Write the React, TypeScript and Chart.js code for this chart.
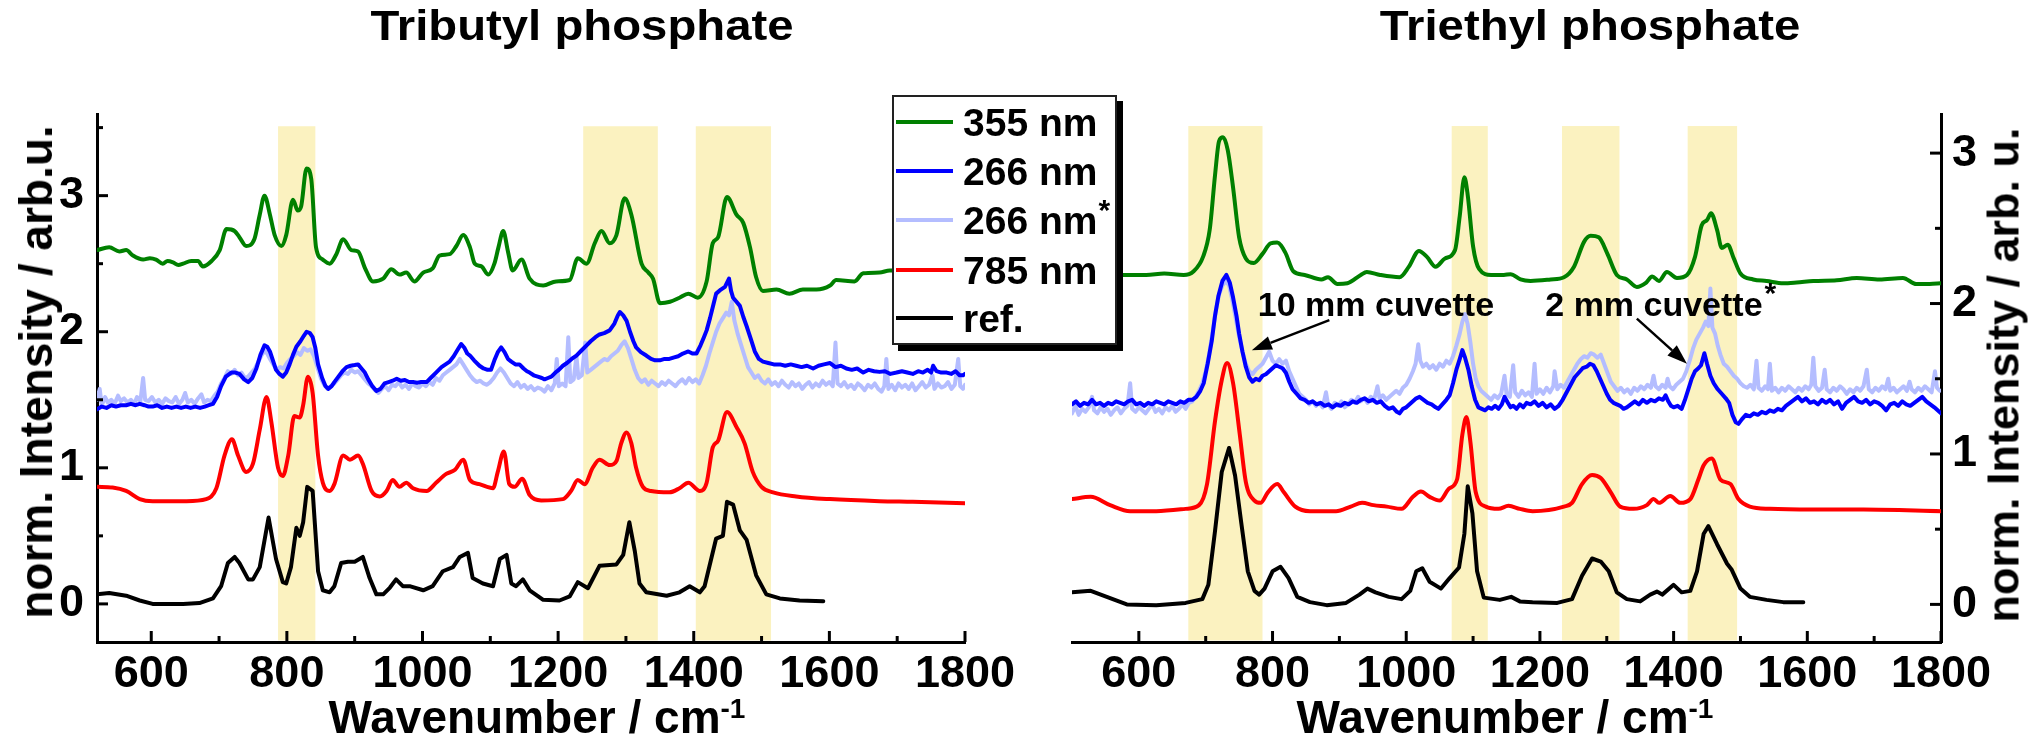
import React, { useEffect, useRef } from "react";
import { Chart, registerables } from "chart.js";

Chart.register(...registerables);

type Pt = [number, number];

const FONT = '"Liberation Sans", Arial, Helvetica, sans-serif';

// ---------- Tributyl phosphate (wavenumber / cm-1, normalized intensity) ----------
const TBP_355: Pt[] = [
  [520, 2.6], [538, 2.62], [553, 2.59], [563, 2.6], [573, 2.56], [588, 2.53], [598, 2.54], [607, 2.53],
  [617, 2.5], [624, 2.52], [632, 2.51], [640, 2.49], [647, 2.5], [659, 2.52], [669, 2.52], [676, 2.48],
  [689, 2.52], [701, 2.6], [711, 2.755], [723, 2.74], [730, 2.695], [740, 2.63], [752, 2.68], [760, 2.86],
  [767, 3.0], [775, 2.86], [782, 2.71], [792, 2.63], [799, 2.71], [809, 2.97], [816, 2.89], [821, 2.92],
  [829, 3.2], [836, 3.12], [843, 2.62], [853, 2.53], [863, 2.5], [873, 2.57], [883, 2.68], [895, 2.6],
  [905, 2.59], [915, 2.47], [927, 2.37], [942, 2.39], [954, 2.46], [966, 2.42], [976, 2.435], [988, 2.37],
  [1001, 2.435], [1015, 2.465], [1025, 2.56], [1040, 2.57], [1050, 2.63], [1060, 2.71], [1070, 2.62],
  [1077, 2.5], [1087, 2.48], [1097, 2.42], [1106, 2.5], [1112, 2.62], [1119, 2.74], [1126, 2.59],
  [1133, 2.45], [1146, 2.53], [1158, 2.39], [1178, 2.34], [1197, 2.37], [1217, 2.38], [1229, 2.54],
  [1242, 2.5], [1254, 2.65], [1264, 2.74], [1276, 2.65], [1286, 2.71], [1298, 2.98], [1308, 2.86],
  [1323, 2.5], [1333, 2.435], [1340, 2.39], [1350, 2.21], [1365, 2.22], [1379, 2.25], [1392, 2.28],
  [1406, 2.25], [1419, 2.37], [1428, 2.65], [1436, 2.695], [1449, 2.99], [1463, 2.86], [1473, 2.8],
  [1483, 2.62], [1492, 2.4], [1502, 2.3], [1522, 2.31], [1541, 2.28], [1561, 2.31], [1581, 2.31],
  [1601, 2.34], [1610, 2.38], [1637, 2.37], [1650, 2.43], [1674, 2.435], [1689, 2.45], [1740, 2.45],
  [1800, 2.47],
];

const TBP_266: Pt[] = [
  [520, 1.43], [527, 1.45], [534, 1.44], [541, 1.46], [548, 1.45], [555, 1.46], [563, 1.46], [570, 1.47],
  [577, 1.46], [583, 1.47], [590, 1.46], [596, 1.45], [602, 1.45], [609, 1.46], [616, 1.44], [623, 1.45],
  [630, 1.44], [637, 1.45], [644, 1.44], [651, 1.45], [658, 1.44], [665, 1.45], [672, 1.44], [679, 1.45],
  [685, 1.46], [691, 1.47], [697, 1.52], [703, 1.6], [710, 1.67], [718, 1.7], [724, 1.7], [730, 1.69],
  [737, 1.65], [743, 1.63], [749, 1.66], [755, 1.73], [761, 1.83], [767, 1.9], [771, 1.89], [775, 1.855],
  [780, 1.78], [784, 1.72], [789, 1.69], [794, 1.67], [799, 1.7], [804, 1.76], [809, 1.83], [814, 1.89],
  [820, 1.93], [825, 1.97], [829, 2.0], [834, 1.99], [838, 1.96], [842, 1.88], [846, 1.76], [852, 1.66],
  [857, 1.6], [861, 1.58], [866, 1.6], [870, 1.63], [876, 1.67], [882, 1.71], [888, 1.74], [894, 1.75],
  [900, 1.755], [905, 1.76], [910, 1.73], [915, 1.7], [920, 1.65], [926, 1.6], [932, 1.565], [938, 1.58],
  [944, 1.62], [950, 1.63], [956, 1.64], [962, 1.655], [968, 1.64], [974, 1.645], [980, 1.63], [986, 1.63],
  [992, 1.625], [998, 1.63], [1006, 1.63], [1012, 1.66], [1020, 1.7], [1028, 1.74], [1034, 1.76],
  [1040, 1.78], [1046, 1.82], [1052, 1.87], [1057, 1.91], [1062, 1.88], [1066, 1.84], [1070, 1.825],
  [1076, 1.79], [1084, 1.75], [1090, 1.73], [1096, 1.72], [1101, 1.72], [1106, 1.79], [1111, 1.85],
  [1116, 1.885], [1121, 1.85], [1126, 1.8], [1131, 1.78], [1137, 1.76], [1143, 1.76], [1149, 1.73],
  [1154, 1.71], [1158, 1.7], [1164, 1.68], [1170, 1.67], [1176, 1.66], [1180, 1.65], [1185, 1.66],
  [1190, 1.67], [1196, 1.7], [1201, 1.72], [1207, 1.75], [1213, 1.77], [1220, 1.8], [1227, 1.825],
  [1234, 1.86], [1242, 1.9], [1248, 1.93], [1255, 1.96], [1261, 1.98], [1268, 1.99], [1276, 2.01],
  [1283, 2.06], [1288, 2.12], [1291, 2.145], [1296, 2.12], [1301, 2.08], [1306, 2.0], [1311, 1.93],
  [1315, 1.885], [1322, 1.85], [1330, 1.825], [1337, 1.8], [1343, 1.79], [1350, 1.79], [1357, 1.8],
  [1364, 1.8], [1370, 1.81], [1377, 1.82], [1384, 1.84], [1392, 1.855], [1398, 1.84], [1404, 1.84],
  [1410, 1.9], [1415, 1.96], [1419, 2.01], [1424, 2.1], [1429, 2.2], [1433, 2.28], [1440, 2.31],
  [1446, 2.33], [1452, 2.39], [1455, 2.3], [1458, 2.25], [1463, 2.22], [1468, 2.19], [1473, 2.11],
  [1478, 2.04], [1484, 1.95], [1490, 1.855], [1496, 1.8], [1502, 1.78], [1510, 1.77], [1518, 1.76],
  [1527, 1.76], [1535, 1.75], [1543, 1.76], [1551, 1.75], [1559, 1.74], [1567, 1.75], [1576, 1.73],
  [1584, 1.75], [1592, 1.76], [1601, 1.77], [1609, 1.74], [1617, 1.75], [1625, 1.73], [1633, 1.72],
  [1641, 1.73], [1650, 1.7], [1658, 1.72], [1666, 1.71], [1674, 1.705], [1682, 1.71], [1690, 1.69],
  [1699, 1.7], [1707, 1.71], [1715, 1.7], [1723, 1.69], [1731, 1.71], [1738, 1.7], [1745, 1.72],
  [1750, 1.7], [1753, 1.75], [1758, 1.71], [1765, 1.7], [1773, 1.7], [1780, 1.69], [1786, 1.71],
  [1792, 1.68], [1797, 1.68], [1800, 1.69],
];

// 266 nm, 2 mm cuvette
const TBP_266_2MM: Pt[] = [
  [520, 1.5], [524, 1.58], [527, 1.46], [532, 1.52], [536, 1.48], [541, 1.5], [546, 1.47], [551, 1.53],
  [555, 1.49], [560, 1.51], [565, 1.48], [570, 1.5], [575, 1.47], [579, 1.52], [584, 1.49], [588, 1.66],
  [591, 1.5], [596, 1.49], [601, 1.52], [606, 1.48], [611, 1.5], [616, 1.47], [621, 1.51], [626, 1.49],
  [631, 1.48], [636, 1.52], [641, 1.47], [646, 1.5], [650, 1.55], [654, 1.48], [659, 1.5], [664, 1.47],
  [669, 1.51], [674, 1.54], [678, 1.48], [683, 1.5], [688, 1.49], [693, 1.53], [698, 1.56], [703, 1.62],
  [708, 1.66], [713, 1.71], [718, 1.69], [723, 1.72], [728, 1.68], [733, 1.7], [738, 1.66], [743, 1.67],
  [748, 1.7], [753, 1.73], [758, 1.78], [763, 1.83], [767, 1.86], [771, 1.84], [775, 1.8], [780, 1.76],
  [785, 1.72], [790, 1.74], [795, 1.73], [800, 1.77], [805, 1.8], [810, 1.82], [815, 1.85], [820, 1.83],
  [825, 1.88], [830, 1.86], [835, 1.87], [840, 1.82], [845, 1.74], [850, 1.66], [855, 1.61], [860, 1.58],
  [865, 1.6], [870, 1.62], [875, 1.65], [880, 1.68], [885, 1.7], [890, 1.69], [895, 1.72], [900, 1.7],
  [905, 1.71], [910, 1.68], [915, 1.65], [920, 1.62], [925, 1.6], [930, 1.57], [935, 1.55], [940, 1.58],
  [945, 1.6], [950, 1.57], [955, 1.61], [960, 1.6], [965, 1.63], [970, 1.59], [975, 1.61], [980, 1.58],
  [985, 1.62], [990, 1.6], [995, 1.59], [1000, 1.62], [1005, 1.6], [1010, 1.63], [1015, 1.61],
  [1020, 1.66], [1025, 1.64], [1030, 1.68], [1035, 1.7], [1040, 1.72], [1045, 1.74], [1050, 1.76],
  [1055, 1.8], [1060, 1.76], [1065, 1.72], [1070, 1.68], [1075, 1.65], [1080, 1.63], [1085, 1.64],
  [1090, 1.62], [1095, 1.61], [1100, 1.63], [1105, 1.66], [1110, 1.7], [1115, 1.73], [1120, 1.7],
  [1125, 1.66], [1130, 1.62], [1135, 1.6], [1140, 1.63], [1145, 1.59], [1150, 1.61], [1155, 1.58],
  [1160, 1.6], [1165, 1.57], [1170, 1.59], [1175, 1.58], [1180, 1.56], [1185, 1.6], [1190, 1.57],
  [1195, 1.62], [1198, 1.8], [1201, 1.6], [1206, 1.62], [1211, 1.6], [1215, 1.96], [1218, 1.63],
  [1223, 1.65], [1227, 1.82], [1230, 1.66], [1235, 1.68], [1240, 1.92], [1243, 1.7], [1248, 1.72],
  [1253, 1.74], [1258, 1.76], [1263, 1.78], [1268, 1.8], [1273, 1.79], [1278, 1.82], [1283, 1.84],
  [1288, 1.86], [1293, 1.9], [1298, 1.93], [1303, 1.88], [1308, 1.8], [1313, 1.72], [1318, 1.66],
  [1323, 1.63], [1328, 1.65], [1333, 1.61], [1338, 1.64], [1343, 1.62], [1348, 1.6], [1353, 1.63],
  [1358, 1.61], [1363, 1.64], [1368, 1.62], [1373, 1.6], [1378, 1.63], [1383, 1.65], [1388, 1.62],
  [1393, 1.66], [1398, 1.63], [1403, 1.65], [1408, 1.62], [1413, 1.68], [1418, 1.75], [1423, 1.84],
  [1428, 1.92], [1433, 2.0], [1438, 2.06], [1443, 2.1], [1448, 2.14], [1452, 2.12], [1456, 2.22],
  [1460, 2.08], [1465, 1.98], [1470, 1.9], [1475, 1.82], [1480, 1.74], [1485, 1.7], [1490, 1.66],
  [1495, 1.68], [1500, 1.64], [1505, 1.62], [1510, 1.65], [1515, 1.61], [1520, 1.63], [1525, 1.6],
  [1530, 1.64], [1535, 1.61], [1540, 1.59], [1545, 1.63], [1550, 1.6], [1555, 1.62], [1560, 1.58],
  [1565, 1.61], [1570, 1.63], [1575, 1.59], [1580, 1.62], [1585, 1.6], [1590, 1.64], [1595, 1.61],
  [1600, 1.63], [1605, 1.6], [1609, 1.92], [1612, 1.62], [1617, 1.6], [1622, 1.63], [1627, 1.59],
  [1632, 1.61], [1637, 1.58], [1642, 1.62], [1647, 1.6], [1652, 1.57], [1657, 1.61], [1662, 1.59],
  [1667, 1.62], [1672, 1.58], [1677, 1.56], [1681, 1.6], [1684, 1.8], [1687, 1.58], [1692, 1.61],
  [1697, 1.57], [1702, 1.62], [1707, 1.59], [1712, 1.61], [1717, 1.58], [1722, 1.62], [1727, 1.57],
  [1732, 1.6], [1737, 1.63], [1742, 1.59], [1747, 1.61], [1752, 1.68], [1755, 1.58], [1760, 1.62],
  [1765, 1.59], [1770, 1.6], [1775, 1.63], [1780, 1.58], [1785, 1.61], [1790, 1.8], [1793, 1.6],
  [1797, 1.58], [1800, 1.61],
];

const TBP_785: Pt[] = [
  [520, 0.86], [543, 0.855], [563, 0.83], [583, 0.77], [602, 0.755], [652, 0.755], [681, 0.77],
  [696, 0.85], [708, 1.09], [719, 1.21], [728, 1.09], [740, 0.97], [750, 1.03], [760, 1.28], [770, 1.52],
  [777, 1.34], [787, 1.0], [794, 0.94], [802, 1.09], [811, 1.38], [819, 1.37], [824, 1.46], [831, 1.67],
  [838, 1.55], [846, 1.09], [853, 0.89], [863, 0.83], [870, 0.88], [883, 1.09], [893, 1.06], [905, 1.09],
  [912, 1.03], [925, 0.83], [937, 0.79], [947, 0.83], [956, 0.91], [966, 0.86], [976, 0.89], [986, 0.85],
  [1006, 0.83], [1020, 0.89], [1035, 0.955], [1048, 0.985], [1060, 1.06], [1070, 0.91], [1084, 0.88],
  [1104, 0.85], [1111, 0.97], [1120, 1.12], [1128, 0.88], [1136, 0.86], [1147, 0.92], [1158, 0.8],
  [1175, 0.76], [1207, 0.77], [1219, 0.83], [1229, 0.91], [1239, 0.88], [1251, 1.0], [1261, 1.06],
  [1276, 1.02], [1286, 1.05], [1293, 1.18], [1301, 1.26], [1308, 1.18], [1315, 1.0], [1325, 0.86],
  [1337, 0.83], [1364, 0.82], [1379, 0.85], [1392, 0.89], [1409, 0.83], [1419, 0.89], [1428, 1.15],
  [1436, 1.2], [1449, 1.41], [1463, 1.3], [1475, 1.18], [1487, 0.97], [1500, 0.86], [1517, 0.82],
  [1551, 0.79], [1601, 0.77], [1674, 0.755], [1723, 0.75], [1800, 0.74],
];

const TBP_REF: Pt[] = [
  [520, 0.07], [538, 0.08], [563, 0.06], [583, 0.025], [602, 0.0], [647, 0.0], [671, 0.006], [691, 0.04],
  [703, 0.13], [713, 0.3], [723, 0.345], [730, 0.3], [743, 0.18], [750, 0.18], [760, 0.27], [773, 0.635],
  [784, 0.33], [794, 0.16], [799, 0.15], [806, 0.27], [814, 0.56], [819, 0.5], [824, 0.6], [830, 0.86],
  [838, 0.83], [846, 0.24], [853, 0.1], [863, 0.085], [870, 0.13], [880, 0.3], [890, 0.31], [900, 0.31],
  [912, 0.345], [922, 0.19], [932, 0.07], [942, 0.07], [952, 0.12], [961, 0.18], [971, 0.13], [981, 0.13],
  [1001, 0.1], [1015, 0.13], [1030, 0.24], [1045, 0.27], [1055, 0.345], [1067, 0.375], [1074, 0.19],
  [1089, 0.15], [1104, 0.13], [1114, 0.33], [1124, 0.36], [1131, 0.15], [1138, 0.13], [1148, 0.18],
  [1158, 0.1], [1178, 0.03], [1202, 0.025], [1217, 0.055], [1229, 0.16], [1244, 0.115], [1261, 0.28],
  [1286, 0.29], [1296, 0.36], [1305, 0.6], [1313, 0.39], [1320, 0.15], [1330, 0.085], [1360, 0.06],
  [1379, 0.085], [1394, 0.13], [1409, 0.085], [1416, 0.13], [1433, 0.48], [1443, 0.5], [1449, 0.75],
  [1458, 0.73], [1468, 0.54], [1478, 0.47], [1492, 0.21], [1507, 0.07], [1527, 0.04], [1556, 0.025],
  [1591, 0.02],
];

// ---------- Triethyl phosphate ----------
const TEP_355: Pt[] = [
  [500, 2.19], [540, 2.2], [577, 2.19], [582, 2.19], [611, 2.19], [638, 2.2], [667, 2.19], [682, 2.215],
  [696, 2.31], [706, 2.49], [714, 2.855], [720, 3.08], [726, 3.105], [733, 3.02], [741, 2.77], [750, 2.44],
  [760, 2.3], [772, 2.27], [785, 2.33], [797, 2.4], [807, 2.405], [819, 2.34], [831, 2.215], [848, 2.19],
  [873, 2.16], [883, 2.175], [897, 2.13], [912, 2.135], [932, 2.19], [941, 2.21], [961, 2.19], [990, 2.175],
  [1004, 2.245], [1019, 2.35], [1031, 2.31], [1044, 2.245], [1058, 2.3], [1073, 2.355], [1080, 2.58],
  [1087, 2.84], [1092, 2.72], [1100, 2.38], [1109, 2.23], [1127, 2.19], [1146, 2.19], [1156, 2.195],
  [1171, 2.16], [1186, 2.15], [1216, 2.16], [1236, 2.175], [1251, 2.245], [1266, 2.41], [1276, 2.45],
  [1288, 2.44], [1301, 2.33], [1315, 2.19], [1330, 2.16], [1345, 2.11], [1358, 2.135], [1368, 2.18],
  [1378, 2.15], [1390, 2.21], [1405, 2.17], [1420, 2.19], [1432, 2.31], [1442, 2.52], [1450, 2.555],
  [1456, 2.6], [1465, 2.49], [1472, 2.37], [1481, 2.39], [1490, 2.3], [1500, 2.2], [1519, 2.16],
  [1539, 2.15], [1564, 2.135], [1584, 2.14], [1609, 2.15], [1644, 2.155], [1674, 2.17], [1708, 2.16],
  [1743, 2.17], [1763, 2.13], [1783, 2.13], [1800, 2.135],
];

const TEP_266: Pt[] = [
  [500, 1.33], [506, 1.35], [512, 1.32], [518, 1.34], [524, 1.33], [530, 1.36], [536, 1.33], [542, 1.34],
  [548, 1.32], [554, 1.34], [560, 1.33], [566, 1.35], [572, 1.34], [578, 1.33], [584, 1.35], [590, 1.36],
  [596, 1.33], [602, 1.34], [608, 1.32], [614, 1.34], [620, 1.33], [626, 1.35], [632, 1.34], [638, 1.33],
  [644, 1.35], [650, 1.34], [656, 1.33], [662, 1.35], [668, 1.34], [674, 1.36], [680, 1.36], [686, 1.38],
  [692, 1.42], [697, 1.47], [703, 1.6], [709, 1.75], [714, 1.92], [719, 2.05], [725, 2.15], [731, 2.19],
  [736, 2.14], [741, 2.04], [746, 1.92], [750, 1.8], [755, 1.68], [760, 1.58], [765, 1.51], [770, 1.48],
  [775, 1.5], [780, 1.49], [785, 1.52], [790, 1.53], [795, 1.55], [800, 1.57], [805, 1.59], [810, 1.58],
  [815, 1.57], [820, 1.54], [825, 1.48], [830, 1.43], [836, 1.4], [842, 1.37], [848, 1.36], [854, 1.34],
  [860, 1.35], [866, 1.33], [872, 1.34], [878, 1.32], [884, 1.33], [890, 1.31], [896, 1.33], [902, 1.32],
  [908, 1.34], [914, 1.33], [920, 1.35], [926, 1.34], [932, 1.36], [938, 1.37], [944, 1.35], [950, 1.36],
  [956, 1.34], [962, 1.35], [968, 1.32], [974, 1.3], [980, 1.31], [986, 1.28], [990, 1.27], [995, 1.3],
  [1000, 1.31], [1005, 1.33], [1010, 1.35], [1015, 1.37], [1020, 1.38], [1026, 1.36], [1032, 1.34],
  [1038, 1.33], [1044, 1.31], [1048, 1.3], [1054, 1.33], [1060, 1.36], [1065, 1.39], [1070, 1.47],
  [1075, 1.56], [1080, 1.63], [1084, 1.69], [1088, 1.64], [1093, 1.56], [1098, 1.45], [1103, 1.36],
  [1108, 1.31], [1113, 1.3], [1118, 1.29], [1123, 1.31], [1128, 1.3], [1133, 1.32], [1138, 1.3],
  [1143, 1.33], [1147, 1.38], [1152, 1.34], [1156, 1.31], [1160, 1.32], [1165, 1.3], [1170, 1.33],
  [1175, 1.31], [1180, 1.34], [1186, 1.33], [1192, 1.35], [1198, 1.32], [1204, 1.34], [1210, 1.31],
  [1216, 1.33], [1222, 1.3], [1228, 1.32], [1234, 1.36], [1240, 1.41], [1246, 1.46], [1252, 1.51],
  [1258, 1.54], [1264, 1.57], [1270, 1.58], [1275, 1.6], [1280, 1.59], [1285, 1.55], [1290, 1.5],
  [1295, 1.45], [1300, 1.4], [1305, 1.36], [1310, 1.34], [1315, 1.33], [1320, 1.32], [1325, 1.3],
  [1330, 1.31], [1336, 1.33], [1342, 1.35], [1348, 1.33], [1354, 1.36], [1360, 1.34], [1366, 1.36],
  [1372, 1.35], [1378, 1.37], [1384, 1.36], [1388, 1.39], [1392, 1.35], [1396, 1.32], [1400, 1.31],
  [1406, 1.32], [1412, 1.3], [1417, 1.36], [1422, 1.43], [1427, 1.5], [1432, 1.55], [1437, 1.57],
  [1441, 1.59], [1446, 1.67], [1450, 1.6], [1455, 1.52], [1460, 1.47], [1466, 1.43], [1472, 1.4],
  [1478, 1.37], [1483, 1.34], [1488, 1.26], [1493, 1.21], [1497, 1.2], [1502, 1.23], [1508, 1.26],
  [1514, 1.25], [1520, 1.27], [1526, 1.26], [1532, 1.28], [1538, 1.27], [1544, 1.29], [1550, 1.28],
  [1556, 1.3], [1562, 1.29], [1568, 1.32], [1574, 1.34], [1580, 1.36], [1586, 1.38], [1592, 1.35],
  [1598, 1.37], [1604, 1.34], [1610, 1.35], [1616, 1.33], [1622, 1.36], [1628, 1.34], [1634, 1.36],
  [1640, 1.33], [1646, 1.35], [1652, 1.3], [1658, 1.34], [1664, 1.36], [1670, 1.38], [1676, 1.35],
  [1682, 1.34], [1688, 1.36], [1694, 1.33], [1700, 1.35], [1706, 1.34], [1712, 1.32], [1718, 1.29],
  [1724, 1.33], [1730, 1.34], [1736, 1.32], [1742, 1.35], [1748, 1.33], [1754, 1.32], [1760, 1.34],
  [1766, 1.36], [1772, 1.38], [1778, 1.35], [1784, 1.33], [1790, 1.31], [1795, 1.29], [1800, 1.27],
];

const TEP_266_2MM: Pt[] = [
  [500, 1.27], [505, 1.32], [510, 1.26], [515, 1.3], [520, 1.28], [525, 1.31], [530, 1.38], [533, 1.29],
  [538, 1.27], [543, 1.31], [548, 1.28], [553, 1.3], [558, 1.26], [563, 1.29], [568, 1.31], [573, 1.27],
  [578, 1.3], [583, 1.32], [587, 1.47], [590, 1.3], [595, 1.28], [600, 1.31], [605, 1.29], [610, 1.27],
  [615, 1.3], [620, 1.33], [625, 1.28], [630, 1.3], [635, 1.27], [640, 1.31], [645, 1.29], [650, 1.32],
  [655, 1.28], [660, 1.3], [665, 1.33], [670, 1.3], [675, 1.34], [680, 1.35], [685, 1.38], [690, 1.42],
  [695, 1.47], [700, 1.55], [705, 1.66], [710, 1.8], [715, 1.95], [720, 2.06], [725, 2.12], [730, 2.15],
  [735, 2.12], [740, 2.02], [745, 1.9], [750, 1.78], [755, 1.68], [760, 1.6], [765, 1.55], [770, 1.53],
  [775, 1.56], [780, 1.58], [785, 1.6], [790, 1.64], [795, 1.68], [800, 1.62], [805, 1.6], [810, 1.63],
  [815, 1.6], [820, 1.62], [825, 1.55], [830, 1.5], [835, 1.45], [840, 1.4], [845, 1.38], [850, 1.36],
  [855, 1.33], [860, 1.35], [865, 1.32], [870, 1.34], [875, 1.31], [880, 1.41], [883, 1.33], [888, 1.3],
  [893, 1.34], [898, 1.32], [903, 1.35], [908, 1.31], [913, 1.33], [918, 1.36], [923, 1.34], [928, 1.38],
  [932, 1.35], [937, 1.37], [942, 1.34], [947, 1.38], [952, 1.36], [957, 1.45], [960, 1.37], [965, 1.39],
  [970, 1.36], [975, 1.38], [980, 1.4], [985, 1.42], [990, 1.4], [995, 1.44], [1000, 1.46], [1005, 1.5],
  [1010, 1.55], [1014, 1.6], [1018, 1.73], [1021, 1.62], [1025, 1.58], [1030, 1.6], [1035, 1.57],
  [1040, 1.59], [1045, 1.56], [1050, 1.6], [1055, 1.58], [1060, 1.62], [1065, 1.6], [1070, 1.65],
  [1075, 1.72], [1080, 1.8], [1084, 1.88], [1088, 1.93], [1092, 1.86], [1096, 1.74], [1100, 1.6],
  [1104, 1.5], [1108, 1.45], [1112, 1.42], [1117, 1.4], [1122, 1.38], [1127, 1.36], [1132, 1.39],
  [1137, 1.37], [1142, 1.4], [1147, 1.52], [1150, 1.4], [1155, 1.38], [1160, 1.59], [1163, 1.41],
  [1168, 1.38], [1173, 1.42], [1178, 1.39], [1183, 1.41], [1188, 1.38], [1192, 1.6], [1195, 1.4],
  [1200, 1.43], [1205, 1.4], [1210, 1.44], [1215, 1.41], [1220, 1.45], [1222, 1.55], [1226, 1.43],
  [1231, 1.46], [1236, 1.44], [1241, 1.48], [1246, 1.52], [1251, 1.56], [1256, 1.6], [1261, 1.63],
  [1266, 1.65], [1271, 1.64], [1276, 1.67], [1281, 1.66], [1286, 1.64], [1291, 1.66], [1296, 1.6],
  [1301, 1.54], [1306, 1.48], [1311, 1.45], [1316, 1.42], [1321, 1.44], [1326, 1.41], [1331, 1.43],
  [1336, 1.4], [1341, 1.44], [1346, 1.42], [1351, 1.45], [1356, 1.43], [1361, 1.46], [1366, 1.44],
  [1370, 1.52], [1373, 1.45], [1378, 1.43], [1383, 1.46], [1388, 1.44], [1391, 1.5], [1394, 1.45],
  [1399, 1.43], [1404, 1.46], [1409, 1.48], [1414, 1.5], [1419, 1.55], [1424, 1.62], [1429, 1.7],
  [1434, 1.76], [1439, 1.8], [1444, 1.84], [1448, 1.88], [1452, 1.85], [1455, 2.1], [1458, 1.84],
  [1462, 1.8], [1466, 1.72], [1470, 1.66], [1475, 1.6], [1480, 1.58], [1485, 1.55], [1490, 1.52],
  [1495, 1.5], [1500, 1.47], [1505, 1.45], [1510, 1.44], [1515, 1.46], [1520, 1.43], [1524, 1.62],
  [1527, 1.44], [1532, 1.42], [1537, 1.45], [1541, 1.43], [1544, 1.6], [1547, 1.42], [1552, 1.44],
  [1557, 1.41], [1562, 1.44], [1567, 1.42], [1572, 1.45], [1577, 1.43], [1582, 1.41], [1587, 1.44],
  [1592, 1.42], [1597, 1.45], [1602, 1.43], [1606, 1.46], [1609, 1.64], [1612, 1.45], [1617, 1.42],
  [1622, 1.44], [1626, 1.56], [1629, 1.43], [1634, 1.41], [1639, 1.44], [1644, 1.42], [1649, 1.45],
  [1654, 1.43], [1659, 1.4], [1664, 1.43], [1669, 1.41], [1674, 1.44], [1679, 1.42], [1684, 1.45],
  [1689, 1.56], [1692, 1.43], [1697, 1.41], [1702, 1.44], [1707, 1.42], [1712, 1.45], [1717, 1.43],
  [1721, 1.5], [1724, 1.42], [1729, 1.44], [1734, 1.41], [1739, 1.43], [1744, 1.45], [1749, 1.42],
  [1753, 1.48], [1756, 1.43], [1761, 1.41], [1766, 1.44], [1771, 1.42], [1776, 1.45], [1781, 1.43],
  [1786, 1.41], [1791, 1.55], [1794, 1.44], [1798, 1.42],
];

const TEP_785: Pt[] = [
  [500, 0.7], [528, 0.715], [557, 0.66], [587, 0.62], [626, 0.62], [670, 0.635], [690, 0.66], [702, 0.8],
  [714, 1.22], [724, 1.49], [732, 1.605], [741, 1.47], [751, 1.13], [760, 0.815], [773, 0.69], [782, 0.675],
  [793, 0.745], [807, 0.8], [817, 0.745], [834, 0.65], [856, 0.62], [895, 0.62], [917, 0.65], [934, 0.675],
  [951, 0.66], [971, 0.65], [993, 0.635], [1010, 0.715], [1022, 0.75], [1035, 0.715], [1050, 0.69],
  [1064, 0.77], [1076, 0.83], [1084, 1.13], [1090, 1.245], [1096, 1.08], [1104, 0.745], [1119, 0.65],
  [1138, 0.635], [1153, 0.655], [1170, 0.635], [1189, 0.62], [1236, 0.65], [1248, 0.675], [1263, 0.8],
  [1278, 0.86], [1291, 0.84], [1306, 0.745], [1320, 0.65], [1340, 0.635], [1360, 0.66], [1370, 0.7],
  [1378, 0.675], [1395, 0.72], [1410, 0.675], [1425, 0.7], [1437, 0.83], [1445, 0.925], [1457, 0.97],
  [1470, 0.83], [1485, 0.8], [1497, 0.7], [1514, 0.65], [1544, 0.635], [1609, 0.63], [1684, 0.63],
  [1800, 0.62],
];

const TEP_REF: Pt[] = [
  [500, 0.08], [528, 0.09], [552, 0.05], [582, 0.0], [626, -0.005], [670, 0.01], [695, 0.035], [704, 0.13],
  [714, 0.49], [724, 0.88], [735, 1.04], [744, 0.855], [753, 0.55], [763, 0.22], [773, 0.09], [780, 0.065],
  [788, 0.105], [800, 0.22], [812, 0.25], [824, 0.175], [837, 0.05], [856, 0.015], [881, -0.005],
  [910, 0.01], [930, 0.065], [942, 0.105], [954, 0.08], [974, 0.05], [993, 0.035], [1006, 0.09],
  [1015, 0.22], [1024, 0.24], [1035, 0.15], [1052, 0.105], [1065, 0.175], [1079, 0.245], [1087, 0.47],
  [1092, 0.785], [1099, 0.605], [1106, 0.22], [1116, 0.045], [1140, 0.03], [1157, 0.05], [1170, 0.02],
  [1189, 0.015], [1226, 0.01], [1248, 0.035], [1263, 0.19], [1278, 0.305], [1291, 0.285], [1303, 0.22],
  [1315, 0.08], [1330, 0.035], [1350, 0.02], [1365, 0.065], [1375, 0.085], [1383, 0.065], [1400, 0.13],
  [1412, 0.08], [1425, 0.09], [1435, 0.22], [1445, 0.47], [1452, 0.52], [1465, 0.4], [1480, 0.27],
  [1487, 0.23], [1500, 0.105], [1514, 0.05], [1539, 0.03], [1564, 0.015], [1594, 0.015],
];

// ---------- axes, highlighted regions, legend ----------
const X_TICKS = [600, 800, 1000, 1200, 1400, 1600, 1800];
const X_MINOR_TICKS = [700, 900, 1100, 1300, 1500, 1700];
const Y_TICKS = [0, 1, 2, 3];
const TBP_Y_MINOR = [0.5, 1.5, 2.5, 3.5];
const TEP_Y_MINOR = [0.5, 1.5, 2.5];

const TBP_BANDS: Pt[] = [[787, 842], [1237, 1347], [1403, 1514]];
const TEP_BANDS: Pt[] = [[674, 785], [1068, 1122], [1233, 1319], [1421, 1495]];

const LEGEND_LABELS = ["355 nm", "266 nm", "266 nm", "785 nm", "ref."];
const LEGEND_STAR = [false, false, true, false, false];
const SERIES_COLORS = ["#008000", "#0000ff", "#b4bdff", "#ff0000", "#000000"];
const BAND_COLOR = "#fbf2c0";

type Note = { text: string; star: boolean; x: number; y: number; from: Pt; to: Pt };
const TEP_NOTES: Note[] = [
  { text: "10 mm cuvette", star: false, x: 778, y: 1.98, from: [885, 1.89], to: [769, 1.69] },
  { text: "2 mm cuvette", star: true, x: 1208, y: 1.98, from: [1345, 1.9], to: [1420, 1.6] },
];

interface Panel {
  side: "left" | "right";
  xMin: number;
  xMax: number;
  yMin: number;
  yMax: number;
  bandTop: number;
  bands: Pt[];
  yMinor: number[];
  series: Pt[][]; // 355, 266, 266 (2 mm), 785, ref
  notes: Note[];
}

const TBP_PANEL: Panel = {
  side: "left", xMin: 520, xMax: 1800, yMin: -0.28, yMax: 3.6, bandTop: 3.51,
  bands: TBP_BANDS, yMinor: TBP_Y_MINOR,
  series: [TBP_355, TBP_266, TBP_266_2MM, TBP_785, TBP_REF], notes: [],
};

const TEP_PANEL: Panel = {
  side: "right", xMin: 500, xMax: 1800, yMin: -0.25, yMax: 3.26, bandTop: 3.18,
  bands: TEP_BANDS, yMinor: TEP_Y_MINOR,
  series: [TEP_355, TEP_266, TEP_266_2MM, TEP_785, TEP_REF], notes: TEP_NOTES,
};

function drawArrow(ctx: CanvasRenderingContext2D, x1: number, y1: number, x2: number, y2: number) {
  const ang = Math.atan2(y2 - y1, x2 - x1);
  const head = 20;
  const half = 7;
  const bx = x2 - head * Math.cos(ang);
  const by = y2 - head * Math.sin(ang);
  ctx.beginPath();
  ctx.moveTo(x1, y1);
  ctx.lineTo(bx, by);
  ctx.stroke();
  ctx.beginPath();
  ctx.moveTo(x2, y2);
  ctx.lineTo(bx + half * Math.sin(ang), by - half * Math.cos(ang));
  ctx.lineTo(bx - half * Math.sin(ang), by + half * Math.cos(ang));
  ctx.closePath();
  ctx.fill();
}

function buildChart(canvas: HTMLCanvasElement, p: Panel, canvasWidth: number) {
  const isLeft = p.side === "left";
  // draw order: the 2 mm trace sits underneath the others
  const order = [2, 0, 1, 3, 4];
  const datasets = p.series.map((pts, i) => ({
    label: LEGEND_LABELS[i],
    data: pts.map(([x, y]) => ({ x, y })),
    borderColor: SERIES_COLORS[i],
    backgroundColor: SERIES_COLORS[i],
    borderWidth: 4,
    pointRadius: 0,
    fill: false,
    tension: 0,
    cubicInterpolationMode: i === 0 || i === 3 ? "monotone" : "default",
    borderJoinStyle: "round",
    borderCapStyle: "round",
    order: 10 - order.indexOf(i),
  }));

  const bandsPlugin = {
    id: "bands",
    beforeDatasetsDraw(chart: any) {
      const { ctx, chartArea, scales } = chart;
      const yt = scales.y.getPixelForValue(p.bandTop);
      ctx.save();
      ctx.fillStyle = BAND_COLOR;
      p.bands.forEach(([a, b]) => {
        const x1 = scales.x.getPixelForValue(a);
        const x2 = scales.x.getPixelForValue(b);
        ctx.fillRect(x1, yt, x2 - x1, chartArea.bottom - 1.5 - yt);
      });
      ctx.restore();
    },
  };

  const ticksPlugin = {
    id: "inwardTicks",
    afterDraw(chart: any) {
      const { ctx, chartArea, scales } = chart;
      const { bottom, left, right } = chartArea;
      ctx.save();
      ctx.strokeStyle = "#000";
      ctx.lineWidth = 3;
      ctx.lineCap = "butt";
      const seg = (x1: number, y1: number, x2: number, y2: number) => {
        ctx.beginPath();
        ctx.moveTo(x1, y1);
        ctx.lineTo(x2, y2);
        ctx.stroke();
      };
      X_TICKS.forEach((v) => {
        const px = scales.x.getPixelForValue(v);
        seg(px, bottom, px, bottom - 11);
      });
      X_MINOR_TICKS.forEach((v) => {
        const px = scales.x.getPixelForValue(v);
        seg(px, bottom, px, bottom - 6);
      });
      const ax = isLeft ? left : right;
      const dir = isLeft ? 1 : -1;
      Y_TICKS.forEach((v) => {
        const py = scales.y.getPixelForValue(v);
        seg(ax, py, ax + dir * 11, py);
      });
      p.yMinor.forEach((v) => {
        const py = scales.y.getPixelForValue(v);
        seg(ax, py, ax + dir * 6, py);
      });
      ctx.restore();
    },
  };

  const notesPlugin = {
    id: "notes",
    afterDatasetsDraw(chart: any) {
      if (!p.notes.length) return;
      const { ctx, scales } = chart;
      ctx.save();
      ctx.fillStyle = "#000";
      ctx.strokeStyle = "#000";
      ctx.lineWidth = 2.5;
      p.notes.forEach((n) => {
        const tx = scales.x.getPixelForValue(n.x);
        const ty = scales.y.getPixelForValue(n.y);
        ctx.font = `bold 34px ${FONT}`;
        ctx.textAlign = "left";
        ctx.textBaseline = "middle";
        ctx.fillText(n.text, tx, ty);
        if (n.star) {
          const w = ctx.measureText(n.text).width;
          ctx.font = `bold 30px ${FONT}`;
          ctx.fillText("*", tx + w + 2, ty - 12);
        }
        drawArrow(
          ctx,
          scales.x.getPixelForValue(n.from[0]),
          scales.y.getPixelForValue(n.from[1]),
          scales.x.getPixelForValue(n.to[0]),
          scales.y.getPixelForValue(n.to[1])
        );
      });
      ctx.restore();
    },
  };

  const tickFont = { family: FONT, size: 45, weight: "bold" as const };

  return new Chart(canvas, {
    type: "line",
    data: { datasets: datasets as any },
    options: {
      animation: false,
      responsive: false,
      maintainAspectRatio: false,
      devicePixelRatio: 1,
      events: [],
      layout: {
        padding: isLeft
          ? { top: 114, left: 0, right: canvasWidth - 965, bottom: 0 }
          : { top: 114, left: 72, right: 0, bottom: 0 },
      },
      plugins: {
        legend: { display: false },
        tooltip: { enabled: false },
        title: { display: false },
      },
      scales: {
        x: {
          type: "linear",
          min: p.xMin,
          max: p.xMax,
          position: "bottom",
          grid: { display: true, drawOnChartArea: false, drawTicks: false },
          border: { display: true, width: 3, color: "#000" },
          ticks: {
            font: tickFont,
            color: "#000",
            padding: 6,
            maxRotation: 0,
            autoSkip: false,
            callback: (v: any) => String(v),
          },
          afterBuildTicks: (s: any) => {
            s.ticks = X_TICKS.map((value) => ({ value }));
          },
          afterFit: (s: any) => {
            s.height = 107;
          },
        },
        y: {
          type: "linear",
          min: p.yMin,
          max: p.yMax,
          position: isLeft ? "left" : "right",
          grid: { display: true, drawOnChartArea: false, drawTicks: false },
          border: { display: true, width: 3, color: "#000" },
          ticks: {
            font: tickFont,
            color: "#000",
            padding: isLeft ? 13 : 11,
            autoSkip: false,
            callback: (v: any) => String(v),
          },
          afterBuildTicks: (s: any) => {
            s.ticks = Y_TICKS.map((value) => ({ value }));
          },
          afterFit: (s: any) => {
            s.width = isLeft ? 97 : 90;
          },
        },
      },
    } as any,
    plugins: [bandsPlugin, ticksPlugin, notesPlugin],
  });
}

function SpectrumPanel({ panel, left, width }: { panel: Panel; left: number; width: number }) {
  const ref = useRef<HTMLCanvasElement | null>(null);
  useEffect(() => {
    if (!ref.current) return;
    const chart = buildChart(ref.current, panel, width);
    return () => chart.destroy();
  }, [panel, width]);
  return (
    <canvas
      ref={ref}
      width={width}
      height={749}
      style={{ position: "absolute", left, top: 0, width, height: 749, display: "block" }}
    />
  );
}

const textBase: React.CSSProperties = {
  position: "absolute",
  fontFamily: FONT,
  fontWeight: "bold",
  color: "#000",
  whiteSpace: "nowrap",
  lineHeight: 1,
};

function Legend() {
  const rows = [27, 76, 125, 175, 223];
  return (
    <div
      style={{
        position: "absolute",
        left: 892,
        top: 95,
        width: 225,
        height: 250,
        boxSizing: "border-box",
        border: "2px solid #222",
        background: "#fff",
        boxShadow: "6px 6px 0 0 #000",
        zIndex: 5,
      }}
    >
      {LEGEND_LABELS.map((label, i) => (
        <div key={i} style={{ position: "absolute", left: 0, top: rows[i] - 2 - 24.5, height: 49, width: 221 }}>
          <div
            style={{
              position: "absolute",
              left: 2,
              top: 22.5,
              width: 57,
              height: 4,
              background: SERIES_COLORS[i],
            }}
          />
          <div style={{ ...textBase, left: 69, top: 0, fontSize: 39, lineHeight: "49px" }}>
            {label}
            {LEGEND_STAR[i] ? (
              <span style={{ fontSize: 30, position: "relative", top: -14, marginLeft: 1 }}>*</span>
            ) : null}
          </div>
        </div>
      ))}
    </div>
  );
}

export default function App() {
  return (
    <div
      style={{
        position: "absolute",
        left: 0,
        top: 0,
        width: 2031,
        height: 749,
        background: "#fff",
        overflow: "hidden",
      }}
    >
      <SpectrumPanel panel={TBP_PANEL} left={0} width={1040} />
      <SpectrumPanel panel={TEP_PANEL} left={1000} width={1031} />

      <div style={{ ...textBase, left: 582, top: 4, fontSize: 43, transform: "translateX(-50%) scaleX(1.1)", zIndex: 4 }}>
        Tributyl phosphate
      </div>
      <div style={{ ...textBase, left: 1590, top: 4, fontSize: 43, transform: "translateX(-50%) scaleX(1.1)", zIndex: 4 }}>
        Triethyl phosphate
      </div>

      <div style={{ ...textBase, left: 537, top: 694, fontSize: 46, transform: "translateX(-50%)", zIndex: 4 }}>
        Wavenumber / cm
        <span style={{ fontSize: 28, position: "relative", top: -15, lineHeight: 0 }}>-1</span>
      </div>
      <div style={{ ...textBase, left: 1505, top: 694, fontSize: 46, transform: "translateX(-50%)", zIndex: 4 }}>
        Wavenumber / cm
        <span style={{ fontSize: 28, position: "relative", top: -15, lineHeight: 0 }}>-1</span>
      </div>

      <div
        style={{ ...textBase, left: 36, top: 372, fontSize: 46, transform: "translate(-50%, -50%) rotate(-90deg)", zIndex: 4 }}
      >
        norm. Intensity / arb.u.
      </div>
      <div
        style={{ ...textBase, left: 2003, top: 375, fontSize: 45, transform: "translate(-50%, -50%) rotate(-90deg)", zIndex: 4 }}
      >
        norm. Intensity / arb. u.
      </div>

      <Legend />
    </div>
  );
}
